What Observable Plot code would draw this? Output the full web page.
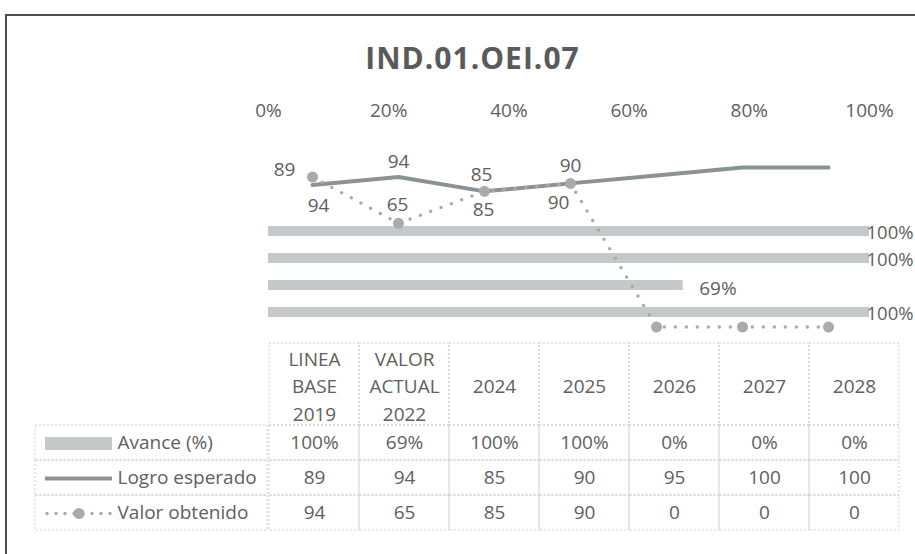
<!DOCTYPE html>
<html>
<head>
<meta charset="utf-8">
<script src="https://cdn.jsdelivr.net/npm/d3@7"></script>
<script src="https://cdn.jsdelivr.net/npm/@observablehq/plot@0.6"></script>
<style>
  html, body { margin: 0; padding: 0; background: #fff; overflow: hidden; }
  #chart { position: relative; width: 915px; height: 554px; overflow: hidden; background: #fff; font-family: "Open Sans", sans-serif; }
  #chart svg { position: absolute; left: 0; top: 0; }
  .edge { position: absolute; background: #4d4d4d; }
  #edgeTop { left: 5px; top: 14px; width: 1000px; height: 2px; }
  #edgeLeft { left: 5px; top: 14px; width: 2px; height: 1000px; }
  #title { position: absolute; left: 15px; top: 43px; width: 915px; text-align: center; font: 700 30px/30px "Open Sans", sans-serif; letter-spacing: 1px; color: #5a5a5a; }
</style>
</head>
<body>
<div id="chart"><div class="edge" id="edgeTop"></div><div class="edge" id="edgeLeft"></div><div id="title"></div></div>
<script>
// ---------- data ----------
const chartTitle = "IND.01.OEI.07";
const categories = ["LINEA BASE 2019", "VALOR ACTUAL 2022", "2024", "2025", "2026", "2027", "2028"];
const seriesNames = ["Avance (%)", "Logro esperado", "Valor obtenido"];
const avance = [1, 0.69, 1, 1, 0, 0, 0];
const logroEsperado = [89, 94, 85, 90, 95, 100, 100];
const valorObtenido = [94, 65, 85, 90, 0, 0, 0];
const labeledPoints = [true, true, true, true, false, false, false];
const xTicks = [0, 0.2, 0.4, 0.6, 0.8, 1];
const lineDomain = [0, 120];

// ---------- layout / style ----------
const W = 915, H = 554;
const chartLeft = 268, chartRight = 869, chartTop = 135, chartBottom = 326.5;
const tableTop = 343, headerBottom = 425, tableBottom = 530, tableLeft = 267, tableRight = 901, legendLeft = 35;
const keyLeft = 45, keyRight = 112;
const textColor = "#606060", barColor = "#c5c9ca", logroColor = "#8a9294", valorColor = "#aaaaaa", gridColor = "#cfcfcf";
const fs = 19;
const style = "background: transparent; overflow: visible; font-family: 'Open Sans', sans-serif;";
const pct = d3.format(".0%");
// label placement relative to the point (Excel-like)
const logroLabelOffsets = [[-28, -15], [0, -15], [-3, -16], [0, -17]];
const valorLabelOffsets = [[6, 29], [-1, -18], [-1, 19], [-12, 20]];

document.getElementById("title").textContent = chartTitle;

const barData = categories.map((c, i) => ({category: c, value: avance[i]}));
const logroData = categories.map((c, i) => ({category: c, value: logroEsperado[i], labeled: labeledPoints[i]}));
const valorData = categories.map((c, i) => ({category: c, value: valorObtenido[i], labeled: labeledPoints[i]}));
const cellData = categories.flatMap((c, i) => [
  {category: c, series: seriesNames[0], text: pct(avance[i])},
  {category: c, series: seriesNames[1], text: String(logroEsperado[i])},
  {category: c, series: seriesNames[2], text: String(valorObtenido[i])}
]);

const chart = document.getElementById("chart");

// ---------- bars (primary axes) ----------
chart.append(Plot.plot({
  width: W, height: H, style,
  marginLeft: chartLeft, marginRight: W - chartRight, marginTop: chartTop, marginBottom: H - chartBottom,
  x: {domain: [0, 1]},
  y: {domain: categories.slice().reverse(), axis: null, paddingInner: 0.63, paddingOuter: 0.315},
  marks: [
    Plot.barX(barData, {x: "value", y: "category", fill: barColor}),
    Plot.text(barData.filter(d => d.value >= 1), {x: "value", y: "category", text: d => pct(d.value), textAnchor: "start", dx: -3, dy: 2, fontSize: 18.5, fill: textColor}),
    Plot.text(barData.filter(d => d.value > 0 && d.value < 1), {x: "value", y: "category", text: d => pct(d.value), textAnchor: "start", dx: 16, dy: 3, fontSize: fs, fill: textColor}),
    Plot.axisX({anchor: "top", ticks: xTicks, tickFormat: pct, tickSize: 0, tickPadding: 19, fontSize: fs, color: textColor, label: null})
  ]
}));

// ---------- lines (secondary axes) ----------
chart.append(Plot.plot({
  width: W, height: H, style,
  marginLeft: chartLeft, marginRight: W - 871, marginTop: chartTop, marginBottom: H - chartBottom,
  x: {type: "point", domain: categories, padding: 0.5, axis: null},
  y: {domain: lineDomain, axis: null},
  marks: [
    Plot.line(logroData, {x: "category", y: "value", stroke: logroColor, strokeWidth: 4}),
    Plot.line(valorData, {x: "category", y: "value", stroke: valorColor, strokeWidth: 3.5, strokeDasharray: "0 11", strokeLinecap: "round"}),
    Plot.dot(valorData, {x: "category", y: "value", r: 5.5, fill: valorColor}),
    ...logroData.filter(d => d.labeled).map((d, i) => Plot.text([d], {x: "category", y: "value", text: d => String(d.value), dx: logroLabelOffsets[i][0], dy: logroLabelOffsets[i][1], fontSize: fs, fill: textColor})),
    ...valorData.filter(d => d.labeled).map((d, i) => Plot.text([d], {x: "category", y: "value", text: d => String(d.value), dx: valorLabelOffsets[i][0], dy: valorLabelOffsets[i][1], fontSize: fs, fill: textColor}))
  ]
}));

// ---------- data table: header ----------
chart.append(Plot.plot({
  width: W, height: H, style,
  marginLeft: tableLeft, marginRight: W - tableRight, marginTop: tableTop, marginBottom: H - headerBottom,
  x: {type: "band", domain: categories, padding: 0, axis: null},
  marks: [
    Plot.cell(categories, {x: d => d, fill: "none", stroke: gridColor, strokeDasharray: "2 2"}),
    Plot.text(categories, {x: d => d, text: d => d.split(" ").join("\n"), lineHeight: 1.45, fontSize: fs, fill: textColor})
  ]
}));

// ---------- data table: body ----------
chart.append(Plot.plot({
  width: W, height: H, style,
  marginLeft: tableLeft, marginRight: W - tableRight, marginTop: headerBottom, marginBottom: H - tableBottom,
  x: {type: "band", domain: categories, padding: 0, axis: null},
  y: {type: "band", domain: seriesNames, padding: 0, axis: null},
  marks: [
    Plot.cell(cellData, {x: "category", y: "series", fill: "none", stroke: gridColor, strokeDasharray: "2 2"}),
    Plot.text(cellData, {x: "category", y: "series", text: "text", fontSize: fs, fill: textColor})
  ]
}));

// ---------- data table: legend column ----------
chart.append(Plot.plot({
  width: W, height: H, style,
  marginLeft: legendLeft, marginRight: W - tableLeft, marginTop: headerBottom, marginBottom: H - tableBottom,
  y: {type: "band", domain: seriesNames, padding: 0, axis: null},
  marks: [
    Plot.cell(seriesNames, {y: d => d, fill: "none", stroke: gridColor, strokeDasharray: "2 2"}),
    Plot.text(seriesNames, {y: d => d, text: d => d, frameAnchor: "left", textAnchor: "start", dx: 117 - legendLeft, fontSize: fs, fill: textColor})
  ]
}));

// ---------- legend keys ----------
chart.append(Plot.plot({
  width: W, height: H, style,
  marginLeft: keyLeft, marginRight: W - keyRight, marginTop: headerBottom, marginBottom: H - tableBottom,
  x: {domain: [0, 1], axis: null},
  y: {type: "point", domain: seriesNames, padding: 0.5, axis: null},
  marks: [
    Plot.ruleY([seriesNames[0]], {y: d => d, x1: 0, x2: 1, stroke: barColor, strokeWidth: 13}),
    Plot.ruleY([seriesNames[1]], {y: d => d, x1: 0, x2: 1, stroke: logroColor, strokeWidth: 4}),
    Plot.ruleY([seriesNames[2]], {y: d => d, x1: 0.03, x2: 1, stroke: valorColor, strokeWidth: 3.5, strokeDasharray: "0 9", strokeLinecap: "round"}),
    Plot.dot([seriesNames[2]], {y: d => d, x: 0.5, r: 5.5, fill: valorColor})
  ]
}));
</script>
</body>
</html>
